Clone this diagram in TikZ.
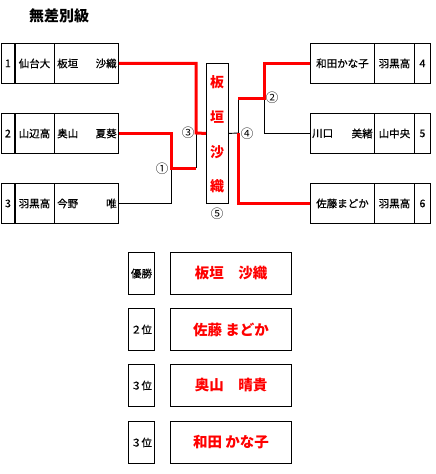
\documentclass[tikz,border=0pt]{standalone}
\usepackage{fontspec}
\setmainfont{Noto Sans CJK JP}
\newfontfamily\cellfont{Noto Sans CJK JP}[FakeBold=0.6]
\begin{document}
\begin{tikzpicture}[x=1pt,y=-1pt,
  cell/.style={draw,line width=0.9pt,inner sep=0pt,anchor=north west,minimum height=40pt,font=\cellfont\fontsize{10.5}{12}\selectfont},
  txt/.style={inner sep=0pt,font=\cellfont\fontsize{10.5}{12}\selectfont},
  redline/.style={draw=red,line width=3pt},
  blkline/.style={draw=black,line width=0.9pt},
  circ/.style={inner sep=0pt,font=\fontsize{12.5}{14}\selectfont},
  vname/.style={inner sep=0pt,text=red,font=\fontsize{14}{16}\bfseries\selectfont},
  rankbox/.style={draw,line width=1pt,inner sep=0pt,anchor=north west,minimum width=26pt,minimum height=42pt,font=\cellfont\fontsize{10.5}{12}\selectfont},
  winbox/.style={draw,line width=1pt,inner sep=0pt,anchor=north west,minimum width=121pt,minimum height=42pt,text=red,font=\fontsize{14.5}{16}\bfseries\selectfont}]
\useasboundingbox (0,0) rectangle (436,474);
\node[inner sep=0pt,font=\fontsize{15}{17}\bfseries\selectfont] (title) at (59,16) {無差別級};
% junction coordinates
\coordinate (j3) at (196,133);
\coordinate (j1) at (171,168);
\coordinate (j1r) at (196,168);
\coordinate (j2) at (264,98);
\coordinate (j4t) at (238,98);
\coordinate (j4) at (238,133);
% left entries
\node[cell,minimum width=14pt] (a1) at (0.5,43) {1};
\node[cell,minimum width=40pt] (s1) at (14,43) {仙台大};
\node[cell,minimum width=64pt] (n1) at (54,43) {};
\node[txt,anchor=west,xshift=3pt] (n1a) at (n1.west) {板垣};
\node[txt,anchor=east,xshift=-2pt] (n1b) at (n1.east) {沙織};
\node[cell,minimum width=14pt] (a2) at (0.5,113) {2};
\node[cell,minimum width=40pt] (s2) at (14,113) {山辺高};
\node[cell,minimum width=64pt] (n2) at (54,113) {};
\node[txt,anchor=west,xshift=3pt] (n2a) at (n2.west) {奥山};
\node[txt,anchor=east,xshift=-2pt] (n2b) at (n2.east) {夏葵};
\node[cell,minimum width=14pt] (a3) at (0.5,183) {3};
\node[cell,minimum width=40pt] (s3) at (14,183) {羽黒高};
\node[cell,minimum width=64pt] (n3) at (54,183) {};
\node[txt,anchor=west,xshift=3pt] (n3a) at (n3.west) {今野};
\node[txt,anchor=east,xshift=-2pt] (n3b) at (n3.east) {唯};
% right entries
\node[cell,minimum width=64pt] (m4) at (310,43) {和田かな子};
\node[cell,minimum width=40pt] (t4) at (374,43) {羽黒高};
\node[cell,minimum width=16pt] (b4) at (414,43) {4};
\node[cell,minimum width=64pt] (m5) at (310,113) {};
\node[txt,anchor=west,xshift=2pt] (m5a) at (m5.west) {川口};
\node[txt,anchor=east,xshift=-2pt] (m5b) at (m5.east) {美緒};
\node[cell,minimum width=40pt] (t5) at (374,113) {山中央};
\node[cell,minimum width=16pt] (b5) at (414,113) {5};
\node[cell,minimum width=64pt] (m6) at (310,183) {佐藤まどか};
\node[cell,minimum width=40pt] (t6) at (374,183) {羽黒高};
\node[cell,minimum width=16pt] (b6) at (414,183) {6};
% champion center box
\node[draw,line width=0.9pt,anchor=north west,minimum width=22pt,minimum height=140pt,inner sep=0pt] (c) at (206,63) {};
\node[vname] (v1) at (217,82) {板};
\node[vname] (v2) at (217,117) {垣};
\node[vname] (v3) at (217,152) {沙};
\node[vname] (v4) at (217,186) {織};
% connectors
\draw[blkline] (n3.east) -| (j1);
\draw[blkline] (j1r) -- (j3);
\draw[blkline] (m5.west) -| (j2);
\draw[blkline] (j4t) -- (j4);
\draw[blkline] (c.east) -- (j4);
\draw[redline] (n1.east) -| (j3) -- (c.west);
\draw[redline] (n2.east) -| (j1) -- (j1r);
\draw[redline] (m4.west) -| (j2) -- (j4t);
\draw[redline] (j4) |- (m6.west);
% match numbers
\node[circ] (k1) at (162,169) {①};
\node[circ] (k2) at (272,98) {②};
\node[circ] (k3) at (188,133) {③};
\node[circ] (k4) at (247,134) {④};
\node[circ] (k5) at (217,214) {⑤};
% results
\node[rankbox] (r1) at (128,252) {優勝};
\node[winbox] (w1) at (170,252) {板垣　沙織};
\node[rankbox] (r2) at (128,308) {２位};
\node[winbox] (w2) at (170,308) {佐藤 まどか};
\node[rankbox] (r3) at (128,364) {３位};
\node[winbox] (w3) at (170,364) {奥山　晴貴};
\node[rankbox] (r4) at (128,421) {３位};
\node[winbox] (w4) at (170,421) {和田 かな子};
\end{tikzpicture}
\end{document}
